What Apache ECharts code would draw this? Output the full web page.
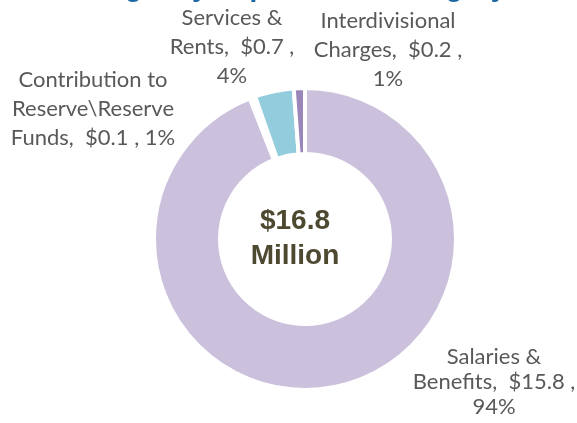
<!DOCTYPE html>
<html>
<head>
<meta charset="utf-8">
<script src="https://cdn.jsdelivr.net/npm/echarts@6/dist/echarts.min.js"></script>
<style>
    html,body{margin:0;padding:0;background:#fff;}
    #budget{width:577px;height:423px;}
</style>
</head>
<body>
<div id="budget"></div>
<script>
    // data ($ millions)
    const categories = ['Salaries & Benefits', 'Contribution to Reserve\\Reserve Funds', 'Services & Rents', 'Interdivisional Charges'];
    const amounts = [15.8, 0.1, 0.7, 0.2];
    const percents = [94, 1, 4, 1];
    const colors = ['#cbc1dc', '#ffffff', '#93cddd', '#9b86b9'];
    const totalText = '$16.8\nMillion';

    // how the category names wrap in the labels
    const nameLines = [
        ['Salaries &', 'Benefits,'],
        ['Contribution to', 'Reserve\\Reserve', 'Funds,'],
        ['Services &', 'Rents,'],
        ['Interdivisional', 'Charges,']
    ];
    const pctOwnLine = [true, false, true, true];
    const labelPos = [[494, 382], [93, 109], [232, 47], [388, 50]];
    const labelLineHeight = [25, 29, 29, 29];

    let chart = echarts.init(document.getElementById('budget'));
    let option = {
        animation:false,
        title:[
            {
                text:'Budget by Expenditure Category',
                left:'center',
                top:-31,
                textStyle:{
                    color:'#1a67a6',
                    fontSize:28,
                    fontWeight:'bold',
                    fontFamily:'Liberation Sans'
                }
            },
            {
                text:totalText,
                left:290,
                top:234,
                textAlign:'center',
                textVerticalAlign:'middle',
                textStyle:{
                    color:'#4d4830',
                    fontSize:28,
                    fontWeight:'bold',
                    lineHeight:35,
                    fontFamily:'Liberation Sans'
                }
            }
        ],
        series:[
            {
                type:'pie',
                center:[305, 239],
                radius:[85, 151],
                startAngle:90,
                clockwise:true,
                avoidLabelOverlap:false,
                itemStyle:{
                    borderColor:'#fff',
                    borderWidth:4
                },
                label:{
                    show:true,
                    position:'outside',
                    color:'#595959',
                    fontSize:22,
                    fontFamily:'Lato',
                    align:'center',
                    formatter:(p)=>{
                        let lines = nameLines[p.dataIndex].slice();
                        let last = lines.pop() + '  $' + amounts[p.dataIndex] + ' ,';
                        let pct = percents[p.dataIndex] + '%';
                        if(pctOwnLine[p.dataIndex]){
                            lines.push(last, pct);
                        }else{
                            lines.push(last + ' ' + pct);
                        }
                        return lines.join('\n');
                    }
                },
                labelLine:{show:false},
                labelLayout:(params)=>{
                    let i = params.dataIndex;
                    return {
                        x:labelPos[i][0],
                        y:labelPos[i][1],
                        align:'center',
                        verticalAlign:'middle'
                    };
                },
                emphasis:{disabled:true},
                data:categories.map((name, i)=>({
                    name:name,
                    value:amounts[i],
                    itemStyle:{color:colors[i]},
                    label:{lineHeight:labelLineHeight[i]}
                }))
            }
        ]
    };
    chart.setOption(option);
    window.addEventListener('resize', chart.resize);
</script>
</body>
</html>
